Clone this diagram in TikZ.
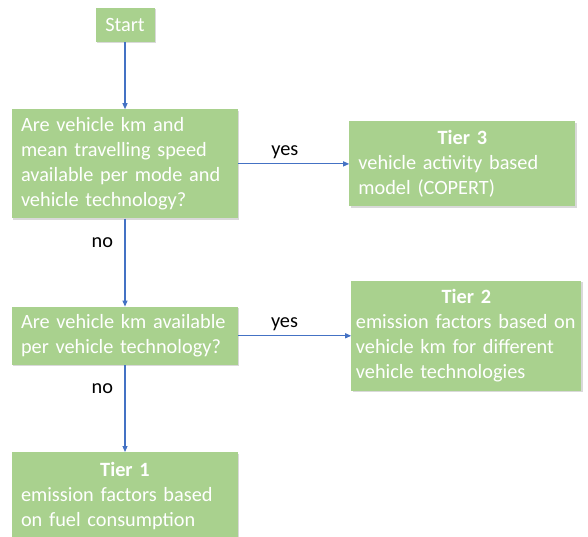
\documentclass[tikz,border=0pt]{standalone}
\usepackage{fontspec}
\setmainfont{Carlito}
\usetikzlibrary{positioning,arrows.meta,shadows}
\definecolor{boxgreen}{HTML}{A9D18E}
\definecolor{flowblue}{HTML}{4472C4}
\tikzset{
  box/.style={fill=boxgreen, text=white, font=\fontsize{20.3}{25}\selectfont,
    drop shadow={shadow xshift=1.2pt, shadow yshift=-1.5pt, opacity=0.3},
    inner xsep=9pt, inner ysep=4pt},
  startbox/.style={box, minimum width=59pt, minimum height=34pt},
  question/.style={box, align=left, text width=208pt},
  tier/.style={box, align=left},
  flow/.style={-{Triangle[length=6pt,width=5pt]}, flowblue, line width=1.1pt},
  lbl/.style={font=\fontsize{20.3}{25}\selectfont, text=black}
}
\begin{document}
\begin{tikzpicture}
  \useasboundingbox (0,0) rectangle (588pt,-537pt);

  % ---------- left column ----------
  \node[startbox] (start) at (125pt,-25pt) {Start};
  \node[question, minimum height=109pt, below=67pt of start] (q1)
    {Are vehicle km and\\mean travelling speed\\available per mode and\\vehicle technology?};
  \node[question, minimum height=58pt, below=88pt of q1] (q2)
    {Are vehicle km available\\per vehicle technology?};
  \node[tier, text width=208pt, minimum height=88pt, below=87pt of q2] (tier1)
    {\makebox[\hsize]{\bfseries Tier 1}\\emission factors based\\on fuel consumption};

  % ---------- right column ----------
  \node[tier, text width=208pt, minimum height=85pt, right=111pt of q1] (tier3)
    {\makebox[\hsize]{\bfseries Tier 3}\\vehicle activity based\\model (COPERT)};
  \node[tier, inner xsep=4.5pt, text width=221pt, minimum height=110pt,
    right=113pt of q2] (tier2)
    {\makebox[\hsize]{\bfseries Tier 2}\\emission factors based on\\vehicle km for different\\vehicle technologies};

  \draw[flow] (start) -- (q1);
  \draw[flow] (q1) -- node[lbl, above=1pt, pos=0.42] {yes} (tier3);
  \draw[flow] (q1) -- node[lbl, pos=0.27, left=8pt] {no} (q2);
  \draw[flow] (q2) -- node[lbl, above=1pt, pos=0.41] {yes} (tier2);
  \draw[flow] (q2) -- node[lbl, pos=0.27, left=8pt] {no} (tier1);
\end{tikzpicture}
\end{document}
